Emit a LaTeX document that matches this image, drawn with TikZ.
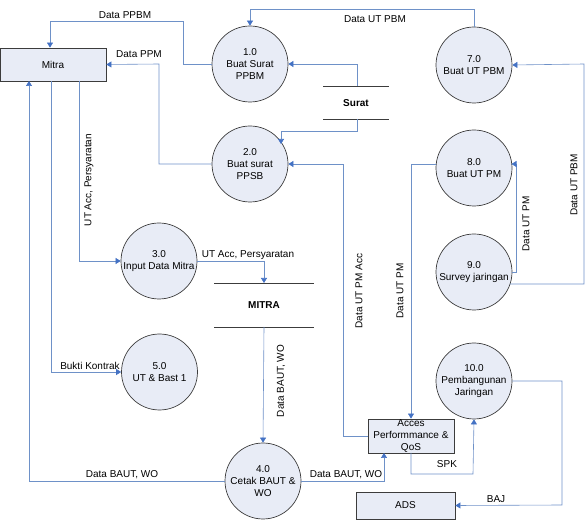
\documentclass[tikz,border=0pt]{standalone}
\usepackage{fontspec}
\setmainfont{Liberation Sans}
\usetikzlibrary{arrows.meta}
\definecolor{flow}{RGB}{110,145,200}
\definecolor{tipc}{RGB}{68,114,196}
\definecolor{fillc}{RGB}{232,236,246}
\definecolor{edgec}{RGB}{60,60,60}
\tikzset{
  proc/.style={circle,draw=edgec,fill=fillc,line width=0.7pt,minimum size=76pt,inner sep=0pt,align=center,font=\fontsize{10}{12}\selectfont},
  ent/.style={rectangle,draw=edgec,fill=fillc,line width=0.8pt,inner sep=0pt,align=center,font=\fontsize{10}{12}\selectfont},
  flw/.style={draw=flow,line width=0.6pt,-{Triangle[width=6pt,length=5pt,color=tipc]}},
  fln/.style={draw=flow,line width=0.6pt},
  lbl/.style={font=\fontsize{10}{12}\selectfont,inner sep=1pt},
  storeline/.style={draw=edgec,line width=0.7pt},
  storetxt/.style={font=\bfseries\fontsize{10}{12}\selectfont}
}
\begin{document}
\begin{tikzpicture}[x=1pt,y=-1pt]
\useasboundingbox (0,0) rectangle (587,521);
% entities
\node[ent,minimum width=106pt,minimum height=33pt] (mitra) at (53,64.5) {Mitra};
\node[ent,minimum width=86pt,minimum height=34pt] (acces) at (411,436) {Acces\\Performmance \&\\QoS};
\node[ent,minimum width=99pt,minimum height=27pt] (ads) at (405.5,505.5) {ADS};
% processes
\node[proc] (p1) at (250,64) {1.0\\Buat Surat\\PPBM};
\node[proc] (p2) at (250,164) {2.0\\Buat surat\\PPSB};
\node[proc] (p3) at (159,261) {3.0\\Input Data Mitra};
\node[proc] (p5) at (159.5,372) {5.0\\UT \& Bast 1};
\node[proc] (p4) at (263,481) {4.0\\Cetak BAUT \&\\WO};
\node[proc] (p7) at (474,65) {7.0\\Buat UT PBM};
\node[proc] (p8) at (474,168) {8.0\\Buat UT PM};
\node[proc] (p9) at (474,272) {9.0\\Survey jaringan};
\node[proc] (p10) at (474,381) {10.0\\Pembangunan\\Jaringan};
% data stores
\coordinate (s1a) at (323,86); \coordinate (s1b) at (389,86);
\coordinate (s1c) at (323,119); \coordinate (s1d) at (389,119);
\draw[storeline] (s1a) -- (s1b); \draw[storeline] (s1c) -- (s1d);
\node[storetxt] (surat) at (356,103) {Surat};
\coordinate (s2a) at (214,283); \coordinate (s2b) at (314,283);
\coordinate (s2c) at (214,327); \coordinate (s2d) at (314,327);
\draw[storeline] (s2a) -- (s2b); \draw[storeline] (s2c) -- (s2d);
\node[storetxt] (mitrads) at (264,305) {MITRA};
% store anchors
\coordinate (suratTop) at (357,86);
\coordinate (suratBot) at (357,119);
\coordinate (mdsTop) at (264,283);
\coordinate (mdsBot) at (264,327);
% flows
\draw[flw] (p1.west) -- (183,64) -- (183,21) -- (50,21) -- (mitra.north -| 50,0);
\node[lbl] (lppbm) at (125,15) {Data PPBM};
\draw[flw] (p2.west) -- (159,164) -- (159,64) -- (mitra.east);
\node[lbl] (lppm) at (139,54) {Data PPM};
\draw[flw] (p7.north) -- (474,9) -- (250,9) -- (p1.north);
\node[lbl] (lutpbm) at (375,19) {Data UT PBM};
\draw[flw] (suratTop) -- (357,64) -- (p1.east);
\draw[flw] (suratBot) -- (357,131) -- (281,131) -- (281,144);
\draw[flw] (acces.west) -- (343,436) -- (343,164) -- (p2.east);
\node[lbl,rotate=90] (lutpmacc) at (359,291) {Data UT PM Acc};
\draw[flw] (p8.west |- 0,164) -- (411,164) -- (acces.north);
\node[lbl,rotate=90] (lutpm1) at (400,291) {Data UT PM};
\draw[flw] (p9.east) -- (516,272) -- (516,164) -- (511.5,164);
\node[lbl,rotate=90] (lutpm2) at (526,224) {Data UT PM};
\draw[flw] (510,284) -- (584,284) -- (584,64) -- (p7.east);
\node[lbl,rotate=90] (lutpbm2) at (574,185) {Data UT PBM};
\draw[flw] (79,81) -- (79,261) -- (p3.west);
\node[lbl,rotate=90] (lacc1) at (89,180) {UT Acc, Persyaratan};
\draw[flw] (p3.east) -- (264,261) -- (mdsTop);
\node[lbl] (lacc2) at (248,255) {UT Acc, Persyaratan};
\draw[flw] (51,81) -- (51,372) -- (p5.west);
\node[lbl] (lbukti) at (90,366) {Bukti Kontrak};
\draw[flw] (p4.west) -- (29,481) -- (29,81);
\node[lbl] (lbaut1) at (122,475) {Data BAUT, WO};
\draw[flw] (mdsBot) -- (p4.north);
\node[lbl,rotate=90] (lbaut2) at (281,381) {Data BAUT, WO};
\draw[flw] (p4.east) -- (384,481) -- (384,453);
\node[lbl] (lbaut3) at (346,475) {Data BAUT, WO};
\draw[flw] (411,453) -- (411,474) -- (473,474) -- (p10.south);
\node[lbl] (lspk) at (447,464) {SPK};
\draw[flw] (p10.east) -- (562,381) -- (562,505) -- (ads.east);
\node[lbl] (lbaj) at (496,499) {BAJ};
\end{tikzpicture}
\end{document}
